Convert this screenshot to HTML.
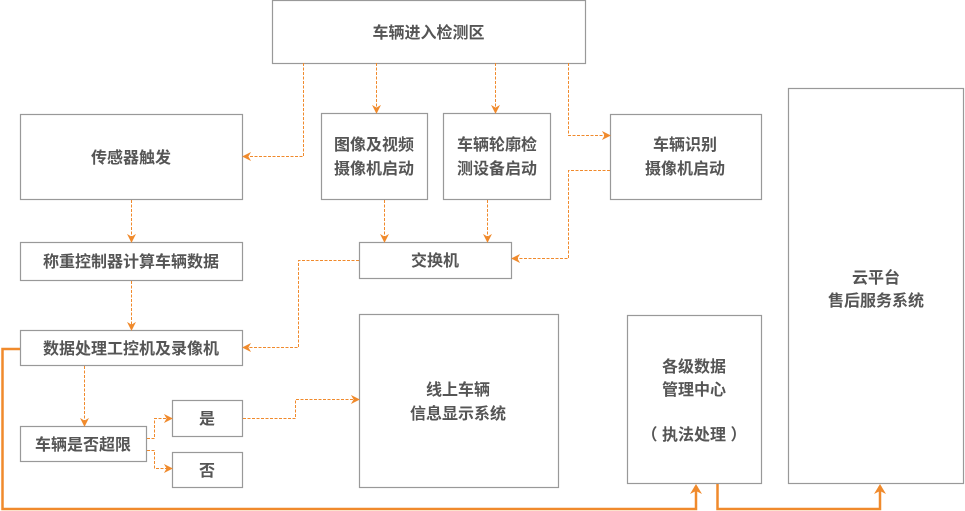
<!DOCTYPE html>
<html><head><meta charset="utf-8"><style>
html,body{margin:0;padding:0;background:#fff;}
svg{display:block}
text{font-family:"Liberation Sans","Noto Sans CJK SC",sans-serif;font-size:16px;fill:#555;text-anchor:middle;font-weight:bold}
</style></head><body>
<svg width="965" height="511" viewBox="0 0 965 511" xmlns="http://www.w3.org/2000/svg">
<defs>
<marker id="a" viewBox="0 0 10 10" refX="9" refY="5" markerWidth="9" markerHeight="9" markerUnits="userSpaceOnUse" orient="auto"><path d="M0,0 L10,5 L0,10 L3,5 z" fill="#f08a2c"/></marker>
</defs>
<g fill="#fff" stroke="#999" stroke-width="1.2">
<rect x="272.5" y="0.5" width="313" height="63"/>
<rect x="20.5" y="114.5" width="222" height="85"/>
<rect x="321.5" y="113.5" width="106" height="86"/>
<rect x="443.5" y="113.5" width="107" height="86"/>
<rect x="610.5" y="114.5" width="151" height="85"/>
<rect x="20.5" y="242.5" width="222" height="38"/>
<rect x="359.5" y="242.5" width="152" height="36"/>
<rect x="20.5" y="330.5" width="222" height="35"/>
<rect x="359.5" y="314.5" width="199" height="173"/>
<rect x="627.5" y="315.5" width="134" height="168"/>
<rect x="788.5" y="88.5" width="175" height="395"/>
<rect x="20.5" y="426.5" width="126" height="35"/>
<rect x="172.5" y="400.5" width="70" height="36"/>
<rect x="172.5" y="452.5" width="70" height="35"/>
</g>
<g fill="none" stroke="#f08a2c" stroke-width="1" stroke-dasharray="3,1.5" marker-end="url(#a)">
<path d="M303.5,63 V156.5 H243"/>
<path d="M376.5,63 V113"/>
<path d="M495.5,63 V113"/>
<path d="M568.5,63 V135.5 H610"/>
<path d="M610,170.5 H568.5 V258.5 H512"/>
<path d="M384.5,200 V242"/>
<path d="M487.5,200 V242"/>
<path d="M359,260.5 H298.5 V347.5 H243"/>
<path d="M131.5,200 V242"/>
<path d="M131.5,281 V330"/>
<path d="M84.5,366 V426"/>
<path d="M147,438.5 H154.5 V418.5 H172"/>
<path d="M147,450.5 H154.5 V468.5 H172"/>
<path d="M243,418.5 H295.5 V399.5 H359"/>
</g>
<g fill="none" stroke="#f08a2c" stroke-width="2.5">
<path d="M20,349 H2.5 V509 H696 V486"/>
<path d="M717.5,484 V509 H880 V486"/>
</g>
<g fill="#f08a2c">
<path d="M696,484 L690,494 L696,491 L702,494 z"/>
<path d="M880,484 L874,494 L880,491 L886,494 z"/>
</g>
<text x="428.5" y="38">车辆进入检测区</text>
<text x="131" y="163">传感器触发</text>
<text x="374" y="150">图像及视频</text>
<text x="374" y="174">摄像机启动</text>
<text x="497" y="150">车辆轮廓检</text>
<text x="497" y="174">测设备启动</text>
<text x="685" y="150">车辆识别</text>
<text x="685" y="174">摄像机启动</text>
<text x="131" y="267">称重控制器计算车辆数据</text>
<text x="435" y="266">交换机</text>
<text x="131" y="354">数据处理工控机及录像机</text>
<text x="458" y="395">线上车辆</text>
<text x="458" y="419">信息显示系统</text>
<text x="694" y="372">各级数据</text>
<text x="694" y="395">管理中心</text>
<text x="694" y="440">（ 执法处理 ）</text>
<text x="876" y="283">云平台</text>
<text x="876" y="306">售后服务系统</text>
<text x="83" y="450">车辆是否超限</text>
<text x="207" y="424">是</text>
<text x="207" y="476">否</text>
</svg>
</body></html>
